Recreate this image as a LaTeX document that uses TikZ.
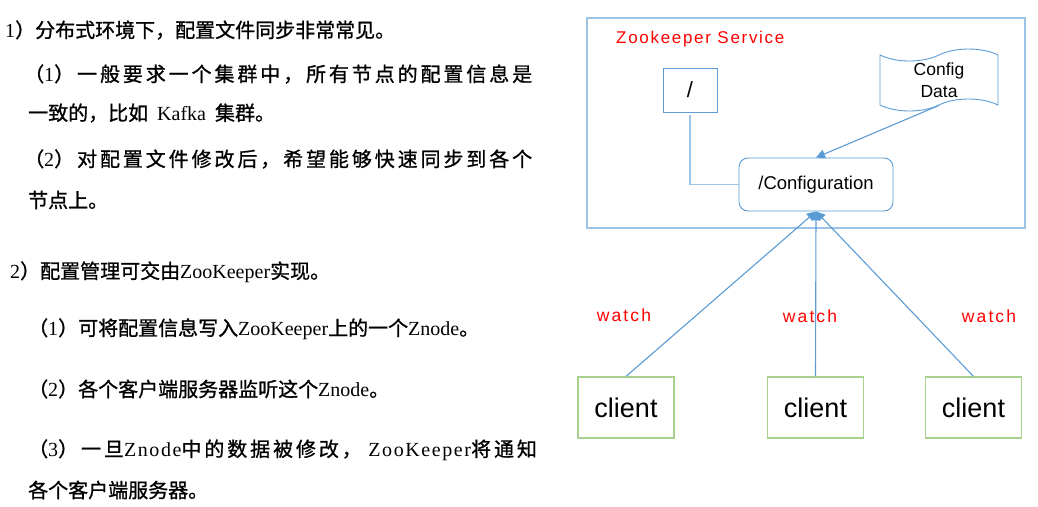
\documentclass[tikz,border=0pt]{standalone}
\usepackage{fontspec}
\setmainfont{Liberation Serif}
\setsansfont{Liberation Sans}
\newfontfamily\zh[FakeBold=1]{Noto Sans CJK SC}
\newfontfamily\zhwide[LetterSpace=14.5,FakeBold=1]{Noto Sans CJK SC}
\newfontfamily\enwide[LetterSpace=8]{Liberation Serif}
\newfontfamily\svcfont[LetterSpace=10]{Liberation Sans}
\newfontfamily\watchfont[LetterSpace=12]{Liberation Sans}
\newcommand{\latn}[1]{{\rmfamily #1}}
\newcommand{\latnw}[1]{{\enwide #1}}
\usetikzlibrary{arrows.meta,positioning,shapes.symbols}
\definecolor{zkblue}{RGB}{91,155,213}
\definecolor{zklight}{RGB}{157,195,230}
\definecolor{zkgreen}{RGB}{169,209,142}

\begin{document}
\begin{tikzpicture}[x = 1pt, y = -1pt, on grid,
                txt/.style     = {anchor = west, inner sep = 0pt, font = \zh\fontsize{20}{24}\selectfont},
                svcbox/.style  = {draw = zklight, line width = 1.2pt},
                zkbox/.style   = {draw = zkblue, line width = 0.9pt, font = \sffamily\fontsize{17.5}{22}\selectfont},
                client/.style  = {draw = zkgreen, line width = 1.2pt, minimum width = 96pt, minimum height = 61pt,
                                  font = \sffamily\fontsize{27}{30}\selectfont},
                watch/.style   = {text = red, inner sep = 0pt, font = \watchfont\fontsize{17.5}{20}\selectfont},
                arr/.style     = {draw = zkblue, line width = 1.1pt, -{Triangle[length = 9pt, width = 9pt]}},
                tree/.style    = {draw = zklight, line width = 1.2pt, shorten <= 3pt}]
                \useasboundingbox (0,0) rectangle (1038,506);

                \node[txt] (t_1)  at (5,30)   {\latn{1}）分布式环境下，配置文件同步非常常见。};
                \node[txt] (t_2)  at (24,74)  {\zhwide （\latn{1}）一般要求一个集群中，所有节点的配置信息是};
                \node[txt] (t_3)  at (28,113) {一致的，比如\hspace{9pt}\latn{Kafka}\hspace{9pt}集群。};
                \node[txt] (t_4)  at (24,159) {\zhwide （\latn{2}）对配置文件修改后，希望能够快速同步到各个};
                \node[txt] (t_5)  at (28,200) {节点上。};
                \node[txt] (t_6)  at (10,272) {\latn{2}）配置管理可交由\latn{ZooKeeper}实现。};
                \node[txt] (t_7)  at (28,329) {（\latn{1}）可将配置信息写入\latn{ZooKeeper}上的一个\latn{Znode}。};
                \node[txt] (t_8)  at (28,389) {（\latn{2}）各个客户端服务器监听这个\latn{Znode}。};
                \node[txt] (t_9)  at (28,450) {\zhwide （\latnw{3}）一旦\latnw{Znode}中的数据被修改，\latnw{ ZooKeeper}将通知};
                \node[txt] (t_10) at (28,490) {各个客户端服务器。};

                \node[svcbox, minimum width = 438pt, minimum height = 210pt] (svc) at (806,123) {};
                \node[anchor = west, inner sep = 0pt, text = red, font = \svcfont\fontsize{17}{20}\selectfont]
                                                        (svc_title) at (616,39) {Zookeeper Service};
                \node[zkbox, minimum width = 54pt, minimum height = 44pt, font = \sffamily\fontsize{22}{24}\selectfont]
                                                        (root)     at (690,90)    {/};
                \node[zkbox, shape = tape, tape bend top = in and out, tape bend bottom = in and out,
                      tape bend height = 12pt, minimum width = 118pt, minimum height = 62pt, inner sep = 0pt, align = center]
                                                        (cfg_data) at (939,80)    {Config\\Data};
                \node[zkbox, rounded corners = 9pt, minimum width = 154pt, minimum height = 53pt, font = \sffamily\fontsize{18.5}{22}\selectfont]
                                                        (conf)     at (816,184.5) {/Configuration};

                \node[client]                           (cl_1) at (626,407.5) {client};
                \node[client, right = 189.5pt of cl_1]  (cl_2)                {client};
                \node[client, right = 158pt of cl_2]    (cl_3)                {client};

                \node[watch] (w_1) at (624,315) {watch};
                \node[watch] (w_2) at (810,316) {watch};
                \node[watch] (w_3) at (989,316) {watch};

                \draw[tree] (root) |- (conf);
                \draw[arr]  (cfg_data.south) -- (conf.north);
                \draw[arr]  (cl_1.north) -- (conf.south);
                \draw[arr]  (cl_2.north) -- (conf.south);
                \draw[arr]  (cl_3.north) -- (conf.south);
\end{tikzpicture}
\end{document}
